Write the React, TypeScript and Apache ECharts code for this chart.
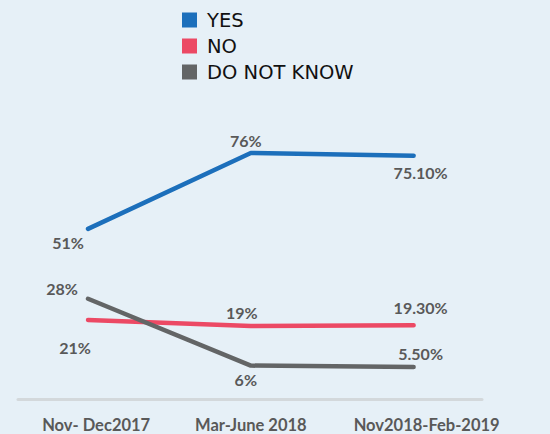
import React, { useEffect, useRef } from "react";
import * as echarts from "echarts";

const categories = ["Nov- Dec2017", "Mar-June 2018", "Nov2018-Feb-2019"];
const categoryLabelPositions = [0.05, 1, 2.08];
const yesValues = [51, 76, 75.1];
const noValues = [21, 19, 19.3];
const dnkValues = [28, 6, 5.5];
const yesLabels = ["51%", "76%", "75.10%"];
const noLabels = ["21%", "19%", "19.30%"];
const dnkLabels = ["28%", "6%", "5.50%"];

const labelStyle = {
  fontFamily: "Lato",
  fontWeight: "bold" as const,
  fontSize: 16,
  color: "#595959",
};

function mk(values: number[], labels: string[], offsets: number[][]) {
  return values.map((v, i) => ({
    value: [i, v],
    label: {
      show: true,
      position: "inside",
      offset: offsets[i],
      formatter: labels[i],
      ...labelStyle,
    },
  }));
}

export default function App() {
  const ref = useRef<HTMLDivElement>(null);
  useEffect(() => {
    if (!ref.current) return;
    const chart = echarts.init(ref.current, null, { renderer: "svg" });
    const lineSeries = (name: string, color: string, data: any[]) => ({
      name,
      type: "line",
      color,
      symbol: "circle",
      symbolSize: 0.01,
      showSymbol: true,
      itemStyle: { color },
      lineStyle: { width: 4.5, color, cap: "round" },
      data,
    });
    chart.setOption({
      animation: false,
      backgroundColor: "#e6f0f7",
      legend: {
        orient: "vertical",
        left: 182,
        top: 10,
        padding: 0,
        itemWidth: 15,
        itemHeight: 15,
        itemGap: 6,
        icon: "rect",
        textStyle: { fontFamily: "DejaVu Sans", fontSize: 19.5, color: "#111", padding: [0, 0, 0, 5] },
        data: ["YES", "NO", "DO NOT KNOW"],
      },
      grid: { left: 18, right: 68, top: 80, bottom: 35 },
      xAxis: {
        type: "value",
        min: -0.43,
        max: 2.42,
        splitLine: { show: false },
        axisLine: { show: true, onZero: false, lineStyle: { color: "#d3d8db", width: 3 } },
        axisTick: { show: false },
        axisLabel: {
          customValues: categoryLabelPositions,
          formatter: (v: number) => categories[Math.round(v)] ?? "",
          margin: 17,
          ...labelStyle,
          fontSize: 16.5,
        },
      },
      yAxis: {
        type: "value",
        min: -5,
        max: 100,
        show: false,
      },
      series: [
        lineSeries("YES", "#1c6fbb", mk(yesValues, yesLabels, [[-20, 14], [-5, -12], [7, 17]])),
        lineSeries("NO", "#ec4964", mk(noValues, noLabels, [[-13, 27], [-9, -14], [7, -18]])),
        lineSeries("DO NOT KNOW", "#636566", mk(dnkValues, dnkLabels, [[-26, -10], [-5, 14], [7, -14]])),
      ],
    });
    return () => chart.dispose();
  }, []);
  return <div ref={ref} style={{ width: 550, height: 434, position: "absolute", left: 0, top: 0 }} />;
}
